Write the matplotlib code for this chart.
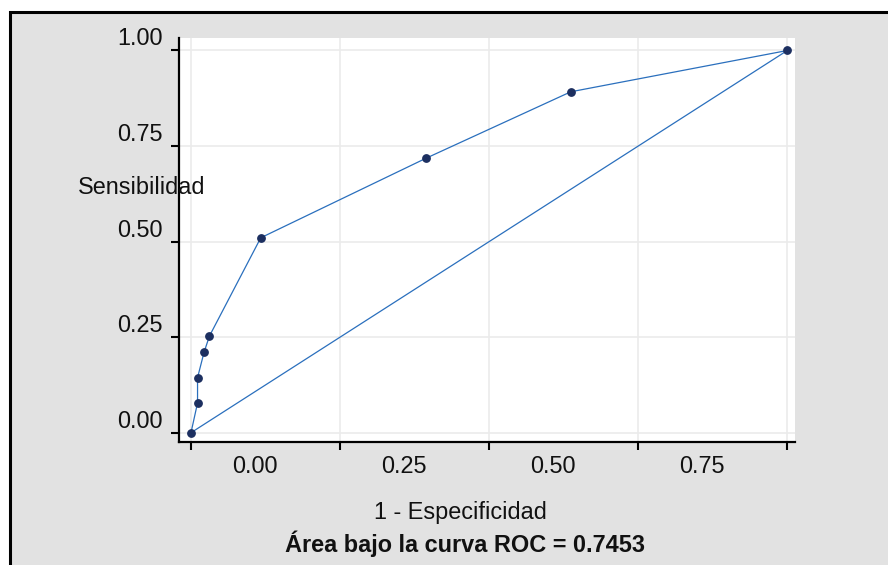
import matplotlib
matplotlib.use("Agg")
import matplotlib.pyplot as plt
import matplotlib.patches as mpatches
from matplotlib.transforms import ScaledTranslation

plt.rcParams['font.family'] = ['Liberation Sans', 'DejaVu Sans']

# Data (1 - specificity, sensitivity)
fpr = [0.0, 0.011, 0.011, 0.022, 0.031, 0.117, 0.394, 0.637, 1.0]
tpr = [0.0, 0.078, 0.144, 0.211, 0.253, 0.510, 0.718, 0.892, 1.0]
ref_x = [0.0, 1.0]
ref_y = [0.0, 1.0]
tick_vals = [0.0, 0.25, 0.50, 0.75, 1.0]
ytick_labels = ['0.00', '0.25', '0.50', '0.75', '1.00']
xtick_labels = ['0.00', '0.25', '0.50', '0.75', '']
auc_text = 'Área bajo la curva ROC = 0.7453'

W, H = 888, 565
fig = plt.figure(figsize=(W / 100, H / 100), dpi=100)
fig.patch.set_facecolor('white')

# outer frame (gray with black border, cut at right/bottom)
bg = mpatches.Rectangle((10 / W, -0.05), 1.2, 1 - 12.2 / H + 0.05,
                        transform=fig.transFigure, facecolor='#e2e2e2',
                        edgecolor='black', linewidth=2.2, zorder=-10)
fig.patches.append(bg)

ax = fig.add_axes([179 / W, 1 - 442 / H, (795 - 179) / W, (442 - 38.3) / H])
ax.set_facecolor('white')

line_c = '#2a6fbd'
mark_c = '#1c2f60'
ax.plot(ref_x, ref_y, color=line_c, lw=0.9, zorder=3)
ax.plot(fpr, tpr, color=line_c, lw=0.9, zorder=3)
ax.plot(fpr, tpr, ls='none', marker='o', ms=5.3, color=mark_c, zorder=4)

ax.set_xlim(-0.0201, 1.0129)
ax.set_ylim(-0.0243, 1.0319)

for s in ['top', 'right']:
    ax.spines[s].set_visible(False)
for s in ['left', 'bottom']:
    ax.spines[s].set_linewidth(1.6)
    ax.spines[s].set_color('black')

ax.set_xticks(tick_vals)
ax.set_xticklabels(xtick_labels)
ax.set_yticks(tick_vals)
ax.set_yticklabels(ytick_labels)
ax.tick_params(axis='both', length=5.5, width=1.5, color='black',
               labelsize=16.9, labelcolor='#111111')
ax.tick_params(axis='y', pad=6.5)
ax.tick_params(axis='x', pad=4.0)
ax.grid(True, color='#ebebeb', lw=1.2, zorder=0)
ax.set_axisbelow(True)

# shift labels as in the reference
for lab in ax.get_yticklabels():
    lab.set_transform(lab.get_transform() + ScaledTranslation(0, 14 / 100, fig.dpi_scale_trans))
for lab in ax.get_xticklabels():
    lab.set_transform(lab.get_transform() + ScaledTranslation(64 / 100, 0, fig.dpi_scale_trans))

fig.text(141.5 / W, 1 - 194 / H, 'Sensibilidad', ha='center', va='baseline',
         fontsize=16.9, color='#111111')
fig.text(460 / W, 1 - 519 / H, '1 - Especificidad', ha='center', va='baseline',
         fontsize=16.9, color='#111111')
fig.text(464.5 / W, 1 - 551.7 / H, auc_text, ha='center', va='baseline',
         fontsize=16.9, fontweight='bold', color='#111111')

fig.savefig('out.png', dpi=100)
